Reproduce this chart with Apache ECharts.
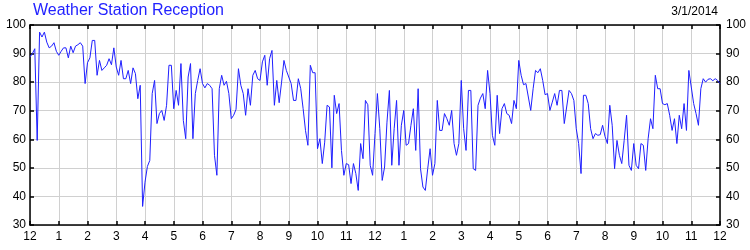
<!DOCTYPE html>
<html>
<head>
<meta charset="utf-8">
<script src="https://cdn.jsdelivr.net/npm/echarts@6/dist/echarts.min.js"></script>
<style>
html,body{margin:0;padding:0;background:#fff;}
#chart{width:750px;height:250px;}
</style>
</head>
<body>
<div id="chart"></div>
<script>
var chartTitle = 'Weather Station Reception';
var dateLabel = '3/1/2014';
var hourLabels = ['12','1','2','3','4','5','6','7','8','9','10','11','12','1','2','3','4','5','6','7','8','9','10','11','12'];
var yTicks = [30, 40, 50, 60, 70, 80, 90, 100];
var minutesPerSample = 5;
var values = [
88.8,90,91.7,59.6,97.5,95.8,97.5,94,92,92.6,93.8,90.8,
89.4,90.8,92,92,88.5,92.6,90.3,92.6,93.1,93.8,92.6,79.5,
86.8,88.5,94.6,94.6,82.4,87.6,84.1,85,85.9,88.2,86.1,92,
85.3,82.4,87.6,81.2,81.2,84.1,79.5,85,83,74.2,78.9,36.5,
45,50.5,52.6,76,80.6,65.5,69,70.1,66.6,71.9,85.9,85.9,
70.7,77.1,71.9,86.5,66.6,60.2,81.8,86.5,60.2,76,80.6,84.7,
79.5,78,79.5,78.9,77.7,54.4,47.4,77.7,82.4,78.9,80.3,76,
67.2,68.4,70.5,84.7,78.9,76,68.4,77.7,71.9,82.4,84.1,81.2,
80.6,87.1,89.4,78.9,88.2,91.1,71.9,80.6,72.8,80,87.6,84.1,
81.8,79.5,73.6,73.6,81.2,77.7,70.7,63,57.9,85.9,83.3,83.3,
56.7,60.2,51.5,59,71.9,71.3,50,75.4,69,72.5,56.1,47.4,
51.5,51.1,44.5,51.5,48,42.1,58.5,53.2,73.6,72.1,50.9,47.4,
62,76,63.7,45.6,50.3,66,77.1,50.9,63.7,73.6,50.9,64.9,
70.1,57.9,58.5,64.9,70.7,56.1,77.7,49.7,43.3,42.1,49.7,56.7,
47.4,51.5,73.6,63.1,63.1,69,67.2,64.9,70.1,58.5,54.4,58.5,
80.6,63.7,56.1,77.1,77.1,49.7,49.1,71.9,74.4,76,70.7,84.1,
76,61.4,57.9,75.4,62,70.7,72.5,69,68.4,65.5,73.6,70.7,
87.6,82.4,79.1,79.5,74.8,70.1,77.7,84.1,83.3,84.7,80.6,75.6,
76,70.1,73,76,71.9,77.1,77.1,65.5,71.3,77.1,76,73.6,
63.7,58.5,48,75.4,75.4,72.5,63.7,60.2,62,61.4,61.6,64.9,
61,58.5,71.9,64.9,49.7,59.6,54.4,51.5,59.6,68.4,50.9,49.1,
58.5,50.9,49.7,58.5,57.9,49.1,60.2,67.2,63.7,82.4,77.7,77.7,
72.5,72.1,72.5,68.4,63.1,67.2,58.5,68.4,63.7,72.5,63.1,84.1,
78.3,72.5,69,64.9,77.7,81.2,80,81,81.2,80.5,81.2,80.6,
79.5
];

var seriesData = values.map(function (v, i) { return [i * minutesPerSample / 60, v]; });

var FONT = '"Liberation Sans", Arial, sans-serif';
var axisLineStyle = { color: '#000', width: 1.5 };
var chart = echarts.init(document.getElementById('chart'), null, { renderer: 'canvas' });

function xAxisBase(pos, showLabel) {
  return {
    type: 'value', min: 0, max: hourLabels.length - 1, interval: 1, position: pos,
    axisLine: { show: true, onZero: false, lineStyle: axisLineStyle },
    axisTick: { show: true, inside: true, length: 4, lineStyle: { color: '#000', width: 1.5 } },
    axisLabel: {
      show: showLabel, margin: 6, color: '#000', fontSize: 12, fontFamily: FONT,
      formatter: function (v) { return hourLabels[Math.round(v)]; }
    },
    splitLine: { show: showLabel, lineStyle: { color: '#d0d0d0', width: 1 } }
  };
}
function yAxisBase(pos, showGrid) {
  return {
    type: 'value', min: yTicks[0], max: yTicks[yTicks.length - 1], interval: yTicks[1] - yTicks[0], position: pos,
    axisLine: { show: true, onZero: false, lineStyle: axisLineStyle },
    axisTick: { show: true, inside: true, length: 4, lineStyle: { color: '#000', width: 1.5 } },
    axisLabel: { show: true, margin: pos === 'left' ? 4 : 6, color: '#000', fontSize: 12, fontFamily: FONT },
    splitLine: { show: showGrid, lineStyle: { color: '#d0d0d0', width: 1 } }
  };
}

chart.setOption({
  animation: false,
  backgroundColor: '#fff',
  title: [
    { text: chartTitle, left: 33, top: 3, padding: 0, textStyle: { color: '#2222ff', fontSize: 16, fontWeight: 'normal', fontFamily: FONT } },
    { text: dateLabel, right: 32, top: 6, padding: 0, textStyle: { color: '#000', fontSize: 12, fontWeight: 'normal', fontFamily: FONT } }
  ],
  grid: { left: 30, right: 30, top: 25, bottom: 25, containLabel: false },
  xAxis: [xAxisBase('bottom', true), xAxisBase('top', false)],
  yAxis: [yAxisBase('left', true), yAxisBase('right', false)],
  series: [{
    type: 'line', xAxisIndex: 0, yAxisIndex: 0, data: seriesData,
    showSymbol: false, symbol: 'none',
    lineStyle: { color: '#1f1fff', width: 1 }
  }]
});
</script>
</body>
</html>
